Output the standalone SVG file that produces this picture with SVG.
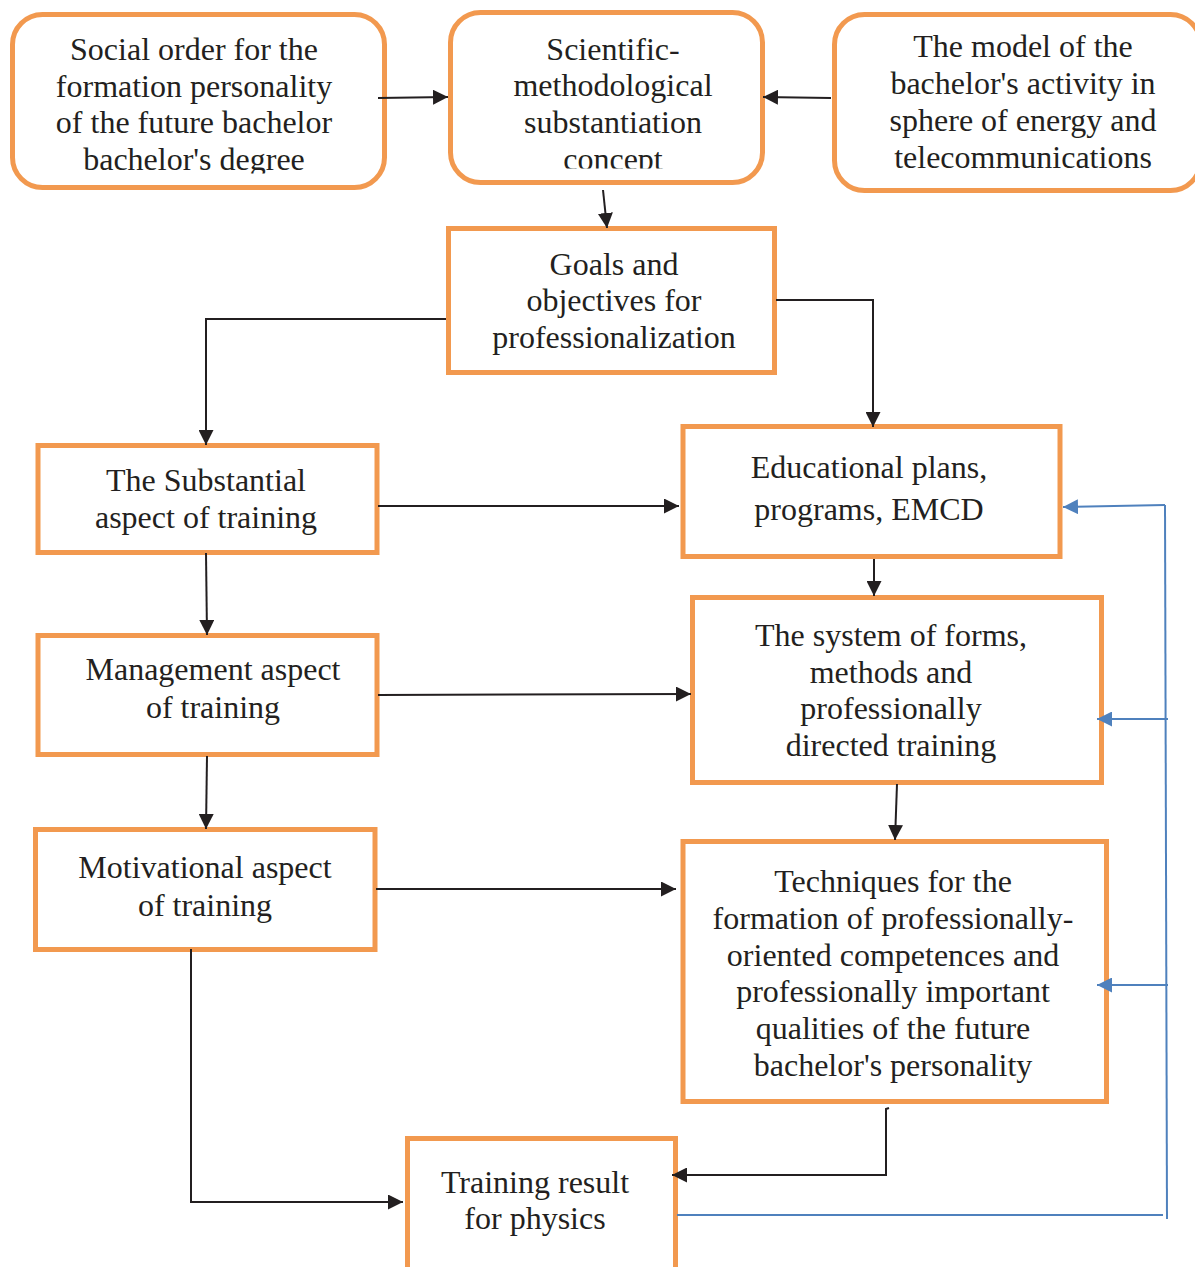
<svg xmlns="http://www.w3.org/2000/svg" width="1195" height="1267" viewBox="0 0 1195 1267">
<defs>
<style>
.box{fill:#fff;stroke:#F2994F;stroke-width:5}
.t{font-family:"Liberation Serif","Times New Roman",serif;font-size:32px;fill:#231F20;text-anchor:middle}
.c{fill:none;stroke:#231F20;stroke-width:2}
.b{fill:none;stroke:#4F81BD;stroke-width:2}
</style>
<marker id="ak" markerUnits="userSpaceOnUse" markerWidth="15" markerHeight="15" refX="15" refY="7.5" orient="auto" viewBox="0 0 15 15"><path d="M0,0 L15,7.5 L0,15 z" fill="#231F20"/></marker>
<marker id="ab" markerUnits="userSpaceOnUse" markerWidth="15" markerHeight="15" refX="15" refY="7.5" orient="auto" viewBox="0 0 15 15"><path d="M0,0 L15,7.5 L0,15 z" fill="#4F81BD"/></marker>
<clipPath id="cl1"><rect x="0" y="0" width="400" height="173.5"/></clipPath>
<clipPath id="cl2"><rect x="440" y="0" width="340" height="168.5"/></clipPath>
</defs>

<g id="n-social">
<rect class="box" x="12.5" y="14.5" width="372" height="173" rx="30"/>
<g clip-path="url(#cl1)">
<text class="t" x="194" y="60">Social order for the</text>
<text class="t" x="194" y="97">formation personality</text>
<text class="t" x="194" y="133">of the future bachelor</text>
<text class="t" x="194" y="170">bachelor's degree</text>
</g>
</g>

<g id="n-scientific">
<rect class="box" x="450.5" y="12.5" width="312" height="170" rx="30"/>
<g clip-path="url(#cl2)">
<text class="t" x="613" y="60">Scientific-</text>
<text class="t" x="613" y="96">methodological</text>
<text class="t" x="613" y="133">substantiation</text>
<text class="t" x="613" y="170">concept</text>
</g>
</g>

<g id="n-model">
<rect class="box" x="834.5" y="14.5" width="366" height="176" rx="30"/>
<text class="t" x="1023" y="57">The model of the</text>
<text class="t" x="1023" y="94">bachelor's activity in</text>
<text class="t" x="1023" y="131">sphere of energy and</text>
<text class="t" x="1023" y="168">telecommunications</text>
</g>

<g id="n-goals">
<rect class="box" x="448.5" y="228.5" width="326" height="144"/>
<text class="t" x="614" y="275">Goals and</text>
<text class="t" x="614" y="311">objectives for</text>
<text class="t" x="614" y="348">professionalization</text>
</g>

<g id="n-substantial">
<rect class="box" x="38" y="445.5" width="339" height="107"/>
<text class="t" x="206" y="491">The Substantial</text>
<text class="t" x="206" y="528">aspect of training</text>
</g>

<g id="n-educational">
<rect class="box" x="683" y="426.5" width="377" height="130"/>
<text class="t" x="869" y="478">Educational plans,</text>
<text class="t" x="869" y="520">programs, EMCD</text>
</g>

<g id="n-management">
<rect class="box" x="38" y="635.5" width="339" height="119"/>
<text class="t" x="213" y="680">Management aspect</text>
<text class="t" x="213" y="718">of training</text>
</g>

<g id="n-system">
<rect class="box" x="692.5" y="597.5" width="409" height="185"/>
<text class="t" x="891" y="646">The system of forms,</text>
<text class="t" x="891" y="683">methods and</text>
<text class="t" x="891" y="719">professionally</text>
<text class="t" x="891" y="756">directed training</text>
</g>

<g id="n-motivational">
<rect class="box" x="35.5" y="829.5" width="339.5" height="120"/>
<text class="t" x="205" y="878">Motivational aspect</text>
<text class="t" x="205" y="916">of training</text>
</g>

<g id="n-techniques">
<rect class="box" x="683" y="841.5" width="423.5" height="260"/>
<text class="t" x="893" y="892">Techniques for the</text>
<text class="t" x="893" y="929">formation of professionally-</text>
<text class="t" x="893" y="966">oriented competences and</text>
<text class="t" x="893" y="1002">professionally important</text>
<text class="t" x="893" y="1039">qualities of the future</text>
<text class="t" x="893" y="1076">bachelor's personality</text>
</g>

<g id="n-result">
<rect class="box" x="407.5" y="1138.5" width="268" height="150"/>
<text class="t" x="535" y="1193">Training result</text>
<text class="t" x="535" y="1229">for physics</text>
</g>

<g id="connectors">
<path class="c" d="M378,98 L448,97" marker-end="url(#ak)"/>
<path class="c" d="M831,98 L763,97" marker-end="url(#ak)"/>
<path class="c" d="M603,190 L607,228" marker-end="url(#ak)"/>
<path class="c" d="M446,319 L206,319 L206,445" marker-end="url(#ak)"/>
<path class="c" d="M776,300 L873,300 L873,427" marker-end="url(#ak)"/>
<path class="c" d="M378,506 L679,506" marker-end="url(#ak)"/>
<path class="c" d="M206,553 L207,635" marker-end="url(#ak)"/>
<path class="c" d="M207,756 L206,829" marker-end="url(#ak)"/>
<path class="c" d="M378,695 L691,694" marker-end="url(#ak)"/>
<path class="c" d="M376,889 L676,889" marker-end="url(#ak)"/>
<path class="c" d="M874,559 L874,596" marker-end="url(#ak)"/>
<path class="c" d="M897,784 L895,840" marker-end="url(#ak)"/>
<path class="c" d="M889,1108 L886,1109 L886,1175 L672,1175" marker-end="url(#ak)"/>
<path class="c" d="M191,949 L191,1202 L403,1202" marker-end="url(#ak)"/>
<path class="b" d="M1165,505 L1063,507" marker-end="url(#ab)"/>
<path class="b" d="M1168,719 L1097,719" marker-end="url(#ab)"/>
<path class="b" d="M1168,985 L1097,985" marker-end="url(#ab)"/>
<path class="b" d="M1165,505 L1167,1219"/>
<path class="b" d="M677,1215 L1163,1215"/>
</g>
</svg>
